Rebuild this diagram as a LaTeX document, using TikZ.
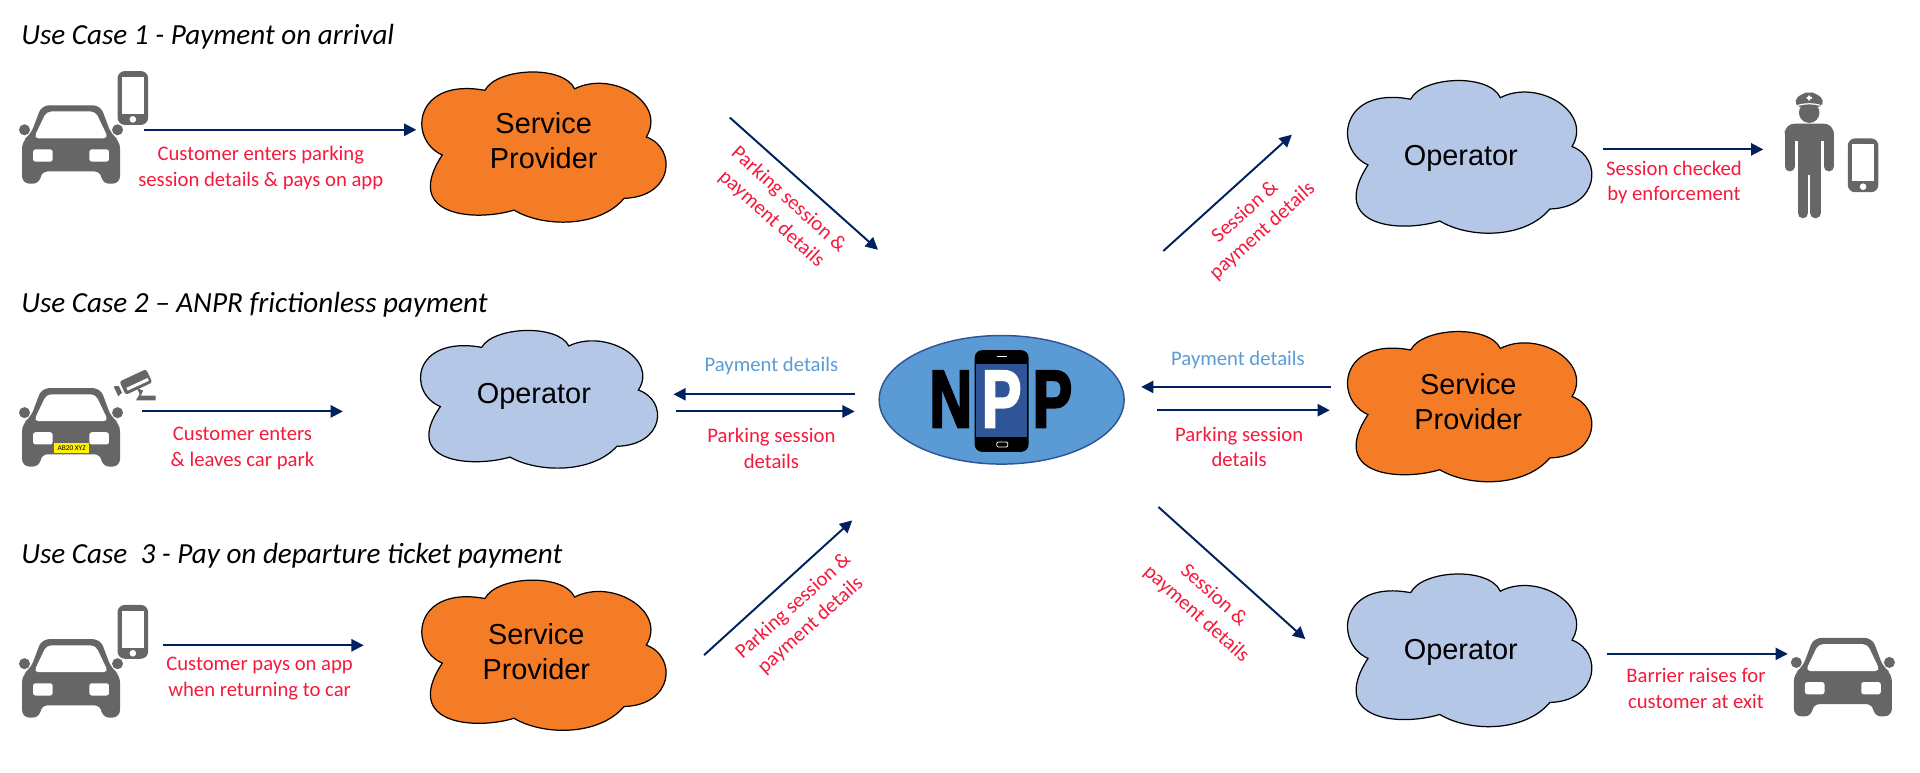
\documentclass[tikz,border=0pt]{standalone}
\usepackage{fontspec}
\setmainfont{Carlito}
\newfontfamily\cloudfont{Liberation Sans}
\newfontfamily\nppfont[FakeStretch=0.72,FakeBold=2.5]{Liberation Sans}
\usetikzlibrary{arrows.meta,shapes.geometric}

\definecolor{navyline}{HTML}{002060}
\definecolor{labelred}{HTML}{F5193C}
\definecolor{labelblue}{HTML}{5B9BD5}
\definecolor{cloudorange}{HTML}{F57C26}
\definecolor{cloudblue}{HTML}{B4C7E7}
\definecolor{nppblue}{HTML}{5B9BD5}
\definecolor{nppdark}{HTML}{2F5597}
\definecolor{icongray}{HTML}{666666}
\definecolor{platey}{HTML}{FFF200}

\tikzset{
cloudicon/.pic={
  \path[pic actions] (-.475,-.77) .. controls (-.38,-1.08) and (.16,-1.12) .. (.25,-.79)
    .. controls (.55,-1.05) and (1.0,-.6) .. (.83,-.136)
    .. controls (1.08,.02) and (1.05,.68) .. (.65,.70)
    .. controls (.45,1.1) and (.0,1.1) .. (-.24,.86)
    .. controls (-.55,1.02) and (-1.15,.95) .. (-.82,.11)
    .. controls (-1.1,-.1) and (-1.05,-.95) .. cycle;
},
caricon/.pic={
  \fill[icongray, rounded corners=3] (-24,0) -- (24,0) -- (33,24) -- (40,29) -- (40,64) -- (25,64) -- (25,54)
    -- (-25,54) -- (-25,64) -- (-40,64) -- (-40,29) -- (-33,24) -- cycle;
  \fill[icongray] (-38,20) circle (4.5) (38,20) circle (4.5);
  \fill[white, rounded corners=2] (-20,5) -- (20,5) -- (30.5,27) -- (-30.5,27) -- cycle;
  \fill[white, rounded corners=1] (-31,36) rectangle (-15,46) (15,36) rectangle (31,46);
},
phoneicon/.pic={
  \fill[icongray, rounded corners=3] (-12.5,-22) rectangle (12.5,22);
  \fill[white] (-9,-17) rectangle (9,13);
  \fill[white] (0,17.5) circle (2.7);
},
officericon/.pic={
  \fill[icongray] (0,17) circle (8.4);
  \fill[icongray, rounded corners=2] (-12.5,7) -- (-6,1.5) -- (0,0) -- (6,1.5) -- (12.5,7) -- (9,13) -- (-9,13) -- cycle;
  \fill[white] (-.8,3) rectangle (.8,7) (-2.2,4.2) rectangle (2.2,5.8);
  \draw[white, line width=.5pt] (-9,11) to[bend left=14] (9,11);
  \fill[icongray, rounded corners=4] (-20,40) -- (-20,26) -- (20,26) -- (20,40) -- cycle;
  \fill[icongray] (-9.5,30) rectangle (9.5,68);
  \draw[icongray, line width=4pt, line cap=round] (-16,34) -- (-16,61) (16,34) -- (16,61);
  \draw[icongray, line width=4.3pt, line cap=round] (-5.2,60) -- (-5.2,99) (5.2,60) -- (5.2,99);
},
cameraicon/.pic={
  \begin{scope}[rotate=25]
  \fill[icongray, rounded corners=1] (-12,-6) rectangle (12,6);
  \fill[white] (-9,1) rectangle (10,3.5);
  \fill[icongray] (-14,-3) -- (-18,-4.5) -- (-18,4.5) -- (-14,3) -- cycle;
  \end{scope}
  \fill[icongray] (1,5) -- (6,7) -- (4,11) -- (16,11) -- (16,15) -- (0,15) -- (3,10) -- cycle;
},
provider/.style={draw=black, line width=.5pt, fill=cloudorange},
operator/.style={draw=black, line width=.5pt, fill=cloudblue},
cloudtext/.style={font=\cloudfont\fontsize{11.8}{14.5}\selectfont, align=center, inner sep=0pt},
heading/.style={font=\itshape\fontsize{11.9}{13}\selectfont, anchor=west, inner sep=0pt},
redtext/.style={font=\fontsize{8.45}{10.5}\selectfont, text=labelred, align=center, inner sep=0pt},
bluetext/.style={font=\fontsize{8.45}{10.5}\selectfont, text=labelblue, align=center, inner sep=0pt},
npptext/.style={font=\nppfont\bfseries\fontsize{33.5}{33.5}\selectfont, inner sep=0pt},
arr/.style={navyline, line width=.8pt, -{Triangle[length=5pt,width=5pt]}}
}

\begin{document}
\begin{tikzpicture}[x=.5pt,y=-.5pt]
\useasboundingbox (0,0) rectangle (1568,630.5);

\node[heading] (title1) at (17,30) {Use Case 1 - Payment on arrival};
\node[heading] (title2) at (17,249) {Use Case 2 – ANPR frictionless payment};
\node[heading] (title3) at (17,454) {Use Case\ \ 3 - Pay on departure ticket payment};

% first row
\pic (car1) at (58,86) {caricon};
\pic (phone1) at (108.5,80) {phoneicon};
\pic[provider, xscale=101, yscale=60] (sp1) at (444,120) {cloudicon};
\node[cloudtext] (sp1text) at (444,115) {Service\\Provider};
\pic[operator, xscale=101, yscale=61] (op1) at (1200,128) {cloudicon};
\node[cloudtext] (op1text) at (1193,129) {Operator};
\pic (officer) at (1477.5,75) {officericon};
\pic (phone2) at (1521.5,135) {phoneicon};

% second row
\pic (car2) at (58,317) {caricon};
\node[fill=platey, minimum width=14.5pt, minimum height=4pt, inner sep=0pt, font=\fontsize{3}{3}\selectfont] (plate) at (58.5,366) {AB20 XYZ};
\pic (camera) at (111,312) {cameraicon};
\pic[operator, xscale=98, yscale=55] (op2) at (440,326) {cloudicon};
\node[cloudtext] (op2text) at (436,324) {Operator};
\node[draw=nppdark, fill=nppblue, ellipse, line width=.6pt, minimum width=100pt, minimum height=52.5pt, inner sep=0pt] (npp) at (818,326.5) {};
\fill[black, rounded corners=3] (796,286) rectangle (840,369);
\fill[nppdark] (797,297) rectangle (839,357);
\draw[white, line width=.4pt] (814,291) -- (822,291);
\draw[white, line width=.3pt, rounded corners=.5] (814,361) rectangle (823,365);
\node[npptext] (nppn) at (776.5,326) {N};
\node[npptext, text=white] (nppp) at (818,326) {P};
\node[npptext] (nppq) at (859.5,326) {P};
\pic[provider, xscale=101, yscale=60] (sp2) at (1200,332) {cloudicon};
\node[cloudtext] (sp2text) at (1199,328) {Service\\Provider};

% third row
\pic (car3) at (58,522) {caricon};
\pic (phone3) at (108.5,516) {phoneicon};
\pic[provider, xscale=101, yscale=60] (sp3) at (444,535) {cloudicon};
\node[cloudtext] (sp3text) at (438,532) {Service\\Provider};
\pic[operator, xscale=101, yscale=61] (op3) at (1200,531) {cloudicon};
\node[cloudtext] (op3text) at (1193,533) {Operator};
\pic (car4) at (1505,521) {caricon};

% arrow ends
\coordinate (a1) at (118,106); \coordinate (b1) at (340,106);
\coordinate (a2) at (596,96); \coordinate (b2) at (717,204);
\coordinate (a3) at (950,205); \coordinate (b3) at (1055,110);
\coordinate (a4) at (1309,122); \coordinate (b4) at (1440,122);
\coordinate (a5) at (116,336); \coordinate (b5) at (280,336);
\coordinate (a6) at (698,322); \coordinate (b6) at (550,322);
\coordinate (a7) at (552,336); \coordinate (b7) at (698,336);
\coordinate (a8) at (1087,316); \coordinate (b8) at (932,316);
\coordinate (a9) at (945,335); \coordinate (b9) at (1086,335);
\coordinate (a10) at (133,527); \coordinate (b10) at (297,527);
\coordinate (a11) at (575,535); \coordinate (b11) at (696,425);
\coordinate (a12) at (946,414); \coordinate (b12) at (1066,522);
\coordinate (a13) at (1312,534); \coordinate (b13) at (1460,534);

\foreach \i in {1,...,13}
  \draw[arr] (a\i) -- (b\i);

\node[redtext] (lab1) at (213,137) {Customer enters parking\\session details \& pays on app};
\node[redtext, rotate=-42] (lab2) at (637,171) {Parking session \&\\payment details};
\node[redtext, rotate=42] (lab3) at (1024,181) {Session \&\\payment details};
\node[redtext] (lab4) at (1367,149) {Session checked\\by enforcement};
\node[redtext] (lab5) at (198,366) {Customer enters\\\& leaves car park};
\node[bluetext] (lab6) at (630,299) {Payment details};
\node[redtext] (lab7) at (630,366) {Parking session\\details};
\node[bluetext] (lab8) at (1011,294) {Payment details};
\node[redtext] (lab9) at (1012,365) {Parking session\\details};
\node[redtext] (lab10) at (212,554) {Customer pays on app\\when returning to car};
\node[redtext, rotate=42] (lab11) at (655,503) {Parking session \&\\payment details};
\node[redtext, rotate=-42] (lab12) at (984,494) {Session \&\\payment details};
\node[redtext] (lab13) at (1385,562) {Barrier raises for\\customer at exit};
\end{tikzpicture}
\end{document}
